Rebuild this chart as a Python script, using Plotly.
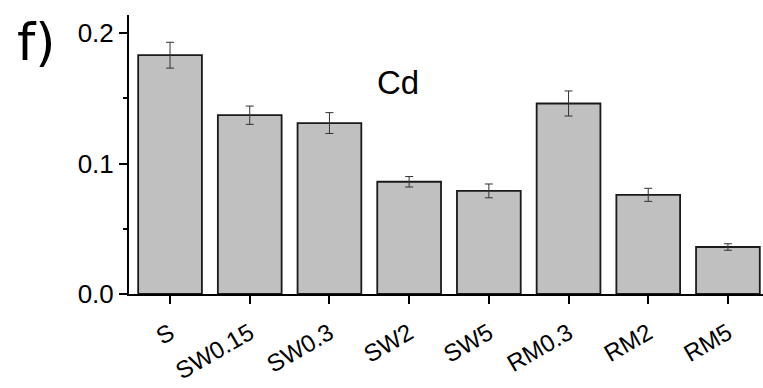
import plotly.graph_objects as go

categories = ["S", "SW0.15", "SW0.3", "SW2", "SW5", "RM0.3", "RM2", "RM5"]
values = [0.183, 0.137, 0.131, 0.086, 0.079, 0.146, 0.076, 0.036]
errors = [0.0099, 0.007, 0.008, 0.004, 0.0053, 0.0096, 0.005, 0.0025]
y_ticks = [0.0, 0.1, 0.2]
y_tick_text = ["0.0", "0.1", "0.2"]

W, H = 763, 388
l, r, t, b = 129, 0, 15, 94
pw, ph = W - l - r, H - t - b
def px(xp): return (xp - l) / pw
def py(yp): return (H - b - yp) / ph

fig = go.Figure()
fig.add_trace(go.Bar(
    x=list(range(len(categories))), y=values,
    width=0.8,
    marker=dict(color="#c0c0c0", line=dict(color="#1a1a1a", width=1.8)),
    error_y=dict(type="data", array=errors, visible=True,
                 color="#333333", thickness=1, width=4),
))

fig.update_layout(
    width=W, height=H,
    margin=dict(l=l, r=r, t=t, b=b),
    paper_bgcolor="white", plot_bgcolor="white",
    showlegend=False,
    font=dict(family="Liberation Sans, Arial", color="black"),
    xaxis=dict(
        range=[-0.515, 7.44], automargin=False,
        tickmode="array", tickvals=list(range(len(categories))), ticktext=categories,
        tickangle=-30, tickfont=dict(size=24), ticklabelstandoff=6,
        showline=True, linecolor="black", linewidth=2,
        ticks="outside", ticklen=8, tickwidth=2, tickcolor="black",
        showgrid=False, zeroline=False,
    ),
    yaxis=dict(
        range=[0, 0.2138], automargin=False,
        tickmode="array", tickvals=y_ticks, ticktext=y_tick_text,
        tickfont=dict(size=26),
        showline=True, linecolor="black", linewidth=2,
        ticks="outside", ticklen=8, tickwidth=2, tickcolor="black",
        minor=dict(tickvals=[0.05, 0.15], ticks="outside", ticklen=4, tickwidth=2, tickcolor="black"),
        showgrid=False, zeroline=False,
    ),
    annotations=[
        dict(text="Cd", x=px(398), y=py(83), xref="paper", yref="paper", showarrow=False,
             xanchor="center", yanchor="middle", font=dict(size=33)),
        dict(text="f)", x=px(37), y=py(42), xref="paper", yref="paper", showarrow=False,
             xanchor="center", yanchor="middle", font=dict(size=52, family="DejaVu Sans")),
    ],
)

fig.write_html("out.html")
